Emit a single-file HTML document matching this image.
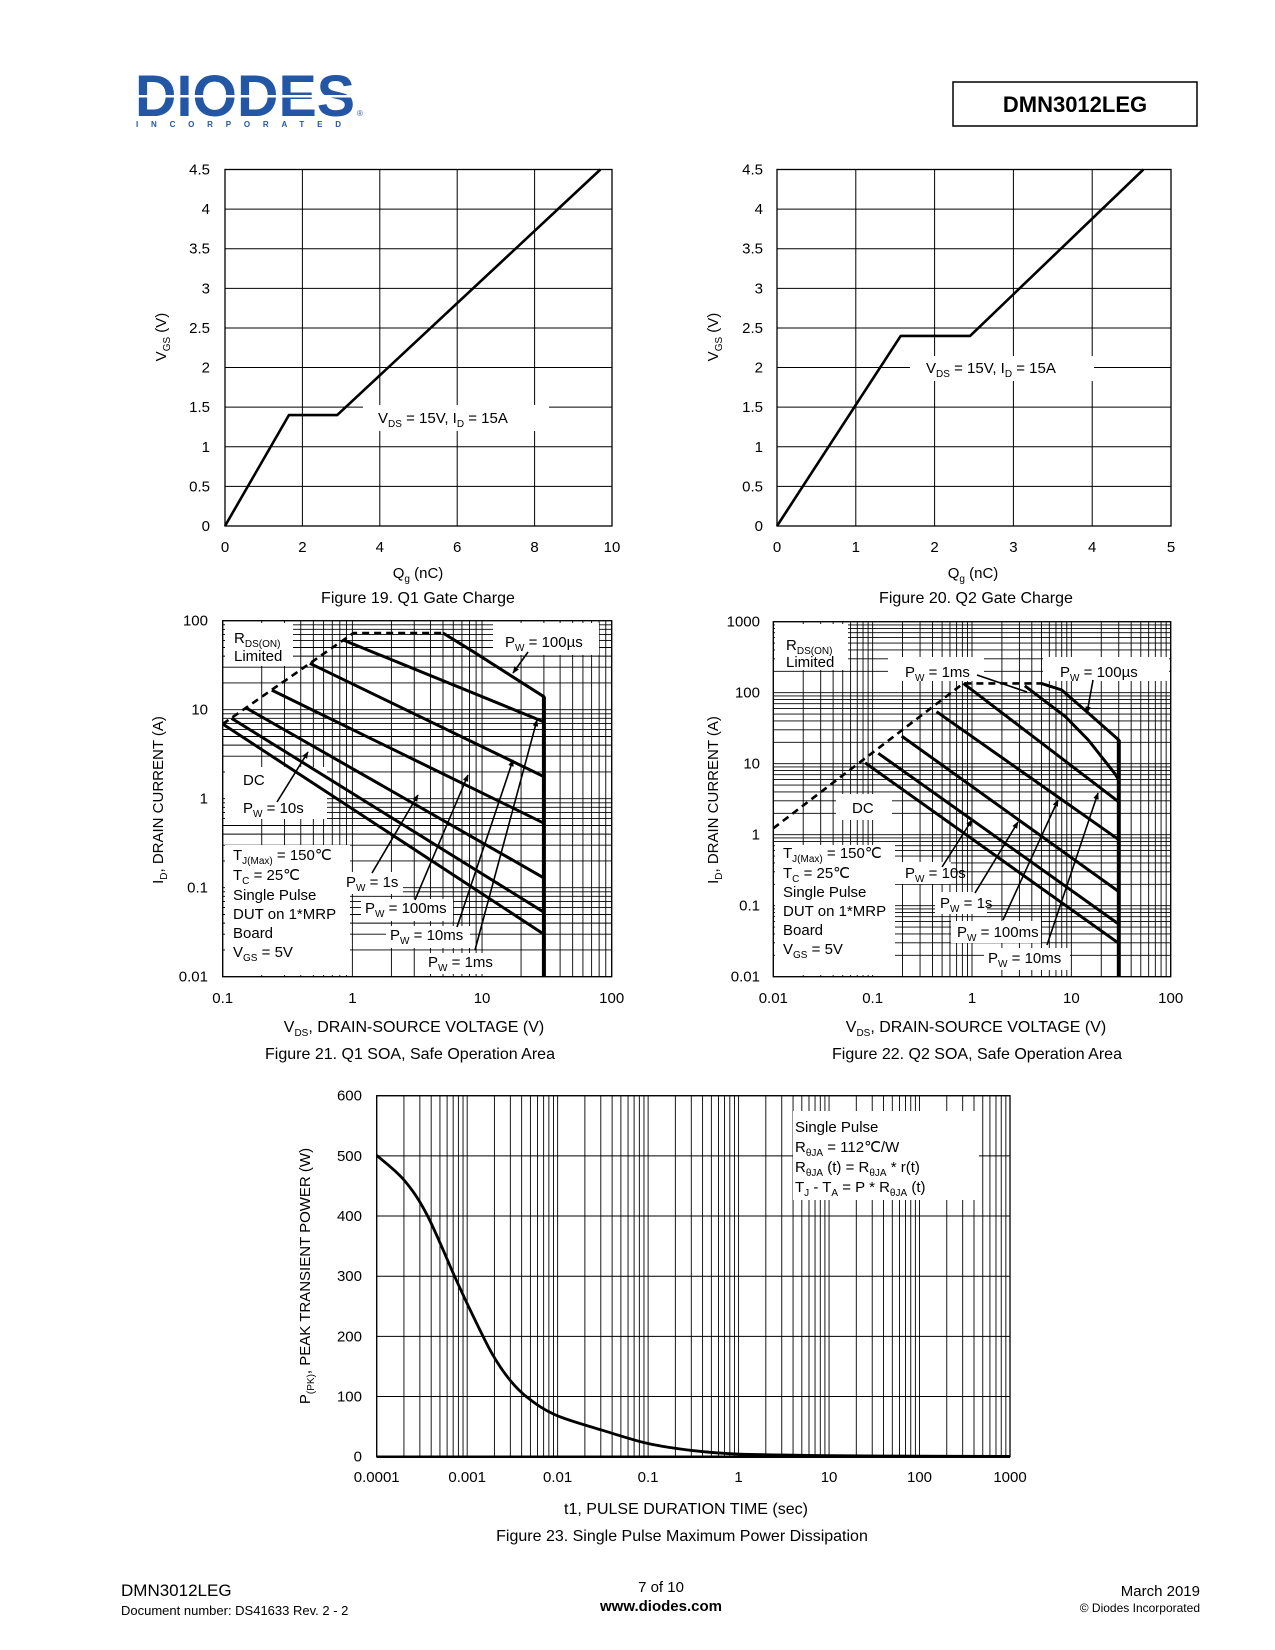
<!DOCTYPE html>
<html><head><meta charset="utf-8"><style>
html,body{margin:0;padding:0;background:#fff}
svg{display:block;font-family:"Liberation Sans",Arial,sans-serif}
text{fill:#000}
</style></head><body>
<svg id="page" width="1275" height="1650" viewBox="0 0 1275 1650" xmlns="http://www.w3.org/2000/svg">
<defs>
<marker id="ah" viewBox="0 0 10 10" refX="9" refY="5" markerWidth="7" markerHeight="7" orient="auto" markerUnits="userSpaceOnUse"><path d="M0,1 L10,5 L0,9 z" fill="#000"/></marker>
</defs>
<rect width="1275" height="1650" fill="#fff"/>
<g>
<text x="135" y="116" font-size="58" font-weight="bold" fill="#2357a6" style="fill:#2357a6" textLength="220" lengthAdjust="spacingAndGlyphs">DIODES</text>
<rect x="133" y="95" width="226" height="2.5" fill="#fff"/>
<text x="357" y="116" font-size="8" style="fill:#2357a6">®</text>
<text x="136" y="127" font-size="8" font-weight="bold" textLength="205" lengthAdjust="spacing" style="fill:#2357a6">INCORPORATED</text>
</g>
<g>
<rect x="953" y="82" width="244" height="44" fill="none" stroke="#000" stroke-width="1.5"/>
<text x="1075" y="112" font-size="22" font-weight="bold" text-anchor="middle">DMN3012LEG</text>
</g>

<g id="c19-grid"></g>
<g id="c20-grid"></g>
<g id="c21-grid"></g>
<g id="c22-grid"></g>
<g id="c23-grid"></g>

<g fill="#fff">
<rect x="363" y="405" width="186" height="26"/>
<rect x="910" y="356" width="184" height="25"/>
<rect x="225" y="623" width="68" height="43"/>
<rect x="493" y="623" width="106" height="32"/>
<rect x="225" y="767" width="102" height="52"/>
<rect x="225" y="845" width="125" height="130"/>
<rect x="343" y="872" width="60" height="22"/>
<rect x="361" y="899" width="92" height="22"/>
<rect x="386" y="926" width="84" height="22"/>
<rect x="424" y="953" width="80" height="21"/>
<rect x="775" y="624" width="73" height="46"/>
<rect x="888" y="657" width="96" height="24"/>
<rect x="1043" y="657" width="126" height="24"/>
<rect x="836" y="794" width="56" height="26"/>
<rect x="775" y="845" width="120" height="130"/>
<rect x="895" y="862" width="56" height="22"/>
<rect x="935" y="892" width="52" height="22"/>
<rect x="951" y="921" width="90" height="22"/>
<rect x="984" y="948" width="86" height="22"/>
<rect x="793" y="1111" width="186" height="89"/>
</g>

<g id="c19-series"></g>
<g id="c20-series"></g>
<g id="c21-series"></g>
<g id="c22-series"></g>
<g id="c23-series"></g>
<g id="ticks" font-size="15"></g>

<text x="378" y="423" font-size="15">V<tspan font-size="10" dy="4">DS</tspan><tspan dy="-4"> = 15V, I</tspan><tspan font-size="10" dy="4">D</tspan><tspan dy="-4"> = 15A</tspan></text>
<text x="418" y="578" font-size="15" text-anchor="middle">Q<tspan font-size="10" dy="4">g</tspan><tspan dy="-4"> (nC)</tspan></text>
<text x="418" y="603" font-size="16" text-anchor="middle">Figure 19. Q1 Gate Charge</text>
<text transform="translate(166,337) rotate(-90)" font-size="15" text-anchor="middle">V<tspan font-size="10" dy="4">GS</tspan><tspan dy="-4"> (V)</tspan></text>
<text x="926" y="373" font-size="15">V<tspan font-size="10" dy="4">DS</tspan><tspan dy="-4"> = 15V, I</tspan><tspan font-size="10" dy="4">D</tspan><tspan dy="-4"> = 15A</tspan></text>
<text x="973" y="578" font-size="15" text-anchor="middle">Q<tspan font-size="10" dy="4">g</tspan><tspan dy="-4"> (nC)</tspan></text>
<text x="976" y="603" font-size="16" text-anchor="middle">Figure 20. Q2 Gate Charge</text>
<text transform="translate(718,337) rotate(-90)" font-size="15" text-anchor="middle">V<tspan font-size="10" dy="4">GS</tspan><tspan dy="-4"> (V)</tspan></text>

<g font-size="15">
<text x="234" y="643">R<tspan font-size="10" dy="4">DS(ON)</tspan></text>
<text x="234" y="661">Limited</text>
<text x="505" y="647">P<tspan font-size="10" dy="4">W</tspan><tspan dy="-4"> = 100µs</tspan></text>
<text x="243" y="785">DC</text>
<text x="243" y="813">P<tspan font-size="10" dy="4">W</tspan><tspan dy="-4"> = 10s</tspan></text>
<text x="233" y="860">T<tspan font-size="10" dy="4">J(Max)</tspan><tspan dy="-4"> = 150℃</tspan></text>
<text x="233" y="880">T<tspan font-size="10" dy="4">C</tspan><tspan dy="-4"> = 25℃</tspan></text>
<text x="233" y="900">Single Pulse</text>
<text x="233" y="919">DUT on 1*MRP</text>
<text x="233" y="938">Board</text>
<text x="233" y="957">V<tspan font-size="10" dy="4">GS</tspan><tspan dy="-4"> = 5V</tspan></text>
<text x="346" y="887">P<tspan font-size="10" dy="4">W</tspan><tspan dy="-4"> = 1s</tspan></text>
<text x="365" y="913">P<tspan font-size="10" dy="4">W</tspan><tspan dy="-4"> = 100ms</tspan></text>
<text x="390" y="940">P<tspan font-size="10" dy="4">W</tspan><tspan dy="-4"> = 10ms</tspan></text>
<text x="428" y="967">P<tspan font-size="10" dy="4">W</tspan><tspan dy="-4"> = 1ms</tspan></text>
</g>
<g stroke="#000" stroke-width="1.6" fill="none" marker-end="url(#ah)">
<line x1="528" y1="652" x2="513" y2="673"/>
<line x1="277" y1="802" x2="308" y2="752"/>
<line x1="372" y1="873" x2="418" y2="795"/>
<line x1="415" y1="900" x2="468" y2="775"/>
<line x1="457" y1="927" x2="513" y2="760"/>
<line x1="475" y1="950" x2="537" y2="720"/>
</g>
<text x="414" y="1032" font-size="16" text-anchor="middle">V<tspan font-size="10" dy="4">DS</tspan><tspan dy="-4">, DRAIN-SOURCE VOLTAGE (V)</tspan></text>
<text x="410" y="1059" font-size="16" text-anchor="middle">Figure 21. Q1 SOA, Safe Operation Area</text>
<text transform="translate(163,800) rotate(-90)" font-size="15" text-anchor="middle">I<tspan font-size="10" dy="4">D</tspan><tspan dy="-4">, DRAIN CURRENT (A)</tspan></text>

<g font-size="15">
<text x="786" y="650">R<tspan font-size="10" dy="4">DS(ON)</tspan></text>
<text x="786" y="667">Limited</text>
<text x="905" y="677">P<tspan font-size="10" dy="4">W</tspan><tspan dy="-4"> = 1ms</tspan></text>
<text x="1060" y="677">P<tspan font-size="10" dy="4">W</tspan><tspan dy="-4"> = 100µs</tspan></text>
<text x="852" y="813">DC</text>
<text x="783" y="858">T<tspan font-size="10" dy="4">J(Max)</tspan><tspan dy="-4"> = 150℃</tspan></text>
<text x="783" y="878">T<tspan font-size="10" dy="4">C</tspan><tspan dy="-4"> = 25℃</tspan></text>
<text x="783" y="897">Single Pulse</text>
<text x="783" y="916">DUT on 1*MRP</text>
<text x="783" y="935">Board</text>
<text x="783" y="954">V<tspan font-size="10" dy="4">GS</tspan><tspan dy="-4"> = 5V</tspan></text>
<text x="905" y="878">P<tspan font-size="10" dy="4">W</tspan><tspan dy="-4"> = 10s</tspan></text>
<text x="940" y="908">P<tspan font-size="10" dy="4">W</tspan><tspan dy="-4"> = 1s</tspan></text>
<text x="957" y="937">P<tspan font-size="10" dy="4">W</tspan><tspan dy="-4"> = 100ms</tspan></text>
<text x="988" y="963">P<tspan font-size="10" dy="4">W</tspan><tspan dy="-4"> = 10ms</tspan></text>
</g>
<g stroke="#000" stroke-width="1.6" fill="none">
<line x1="977" y1="675" x2="1027" y2="692"/>
<line x1="1093" y1="680" x2="1087" y2="713" marker-end="url(#ah)"/>
<line x1="942" y1="867" x2="972" y2="820" marker-end="url(#ah)"/>
<line x1="975" y1="893" x2="1018" y2="822" marker-end="url(#ah)"/>
<line x1="1003" y1="920" x2="1058" y2="800" marker-end="url(#ah)"/>
<line x1="1047" y1="945" x2="1098" y2="793" marker-end="url(#ah)"/>
</g>
<text x="976" y="1032" font-size="16" text-anchor="middle">V<tspan font-size="10" dy="4">DS</tspan><tspan dy="-4">, DRAIN-SOURCE VOLTAGE (V)</tspan></text>
<text x="977" y="1059" font-size="16" text-anchor="middle">Figure 22. Q2 SOA, Safe Operation Area</text>
<text transform="translate(718,800) rotate(-90)" font-size="15" text-anchor="middle">I<tspan font-size="10" dy="4">D</tspan><tspan dy="-4">, DRAIN CURRENT (A)</tspan></text>

<g font-size="15">
<text x="795" y="1132">Single Pulse</text>
<text x="795" y="1152">R<tspan font-size="10" dy="4">θJA</tspan><tspan dy="-4"> = 112℃/W</tspan></text>
<text x="795" y="1172">R<tspan font-size="10" dy="4">θJA</tspan><tspan dy="-4"> (t) = R</tspan><tspan font-size="10" dy="4">θJA</tspan><tspan dy="-4"> * r(t)</tspan></text>
<text x="795" y="1192">T<tspan font-size="10" dy="4">J</tspan><tspan dy="-4"> - T</tspan><tspan font-size="10" dy="4">A</tspan><tspan dy="-4"> = P * R</tspan><tspan font-size="10" dy="4">θJA</tspan><tspan dy="-4"> (t)</tspan></text>
</g>
<text x="686" y="1514" font-size="16" text-anchor="middle">t1, PULSE DURATION TIME (sec)</text>
<text x="682" y="1541" font-size="16" text-anchor="middle">Figure 23. Single Pulse Maximum Power Dissipation</text>
<text transform="translate(310,1276) rotate(-90)" font-size="15" text-anchor="middle">P<tspan font-size="10" dy="4">(PK)</tspan><tspan dy="-4">, PEAK TRANSIENT POWER (W)</tspan></text>

<g>
<text x="121" y="1596" font-size="17">DMN3012LEG</text>
<text x="121" y="1615" font-size="13">Document number: DS41633  Rev. 2 - 2</text>
<text x="661" y="1592" font-size="15" text-anchor="middle">7 of 10</text>
<text x="661" y="1611" font-size="15" font-weight="bold" text-anchor="middle">www.diodes.com</text>
<text x="1200" y="1596" font-size="15" text-anchor="end">March 2019</text>
<text x="1200" y="1612" font-size="12" text-anchor="end">© Diodes Incorporated</text>
</g>
</svg>
<script>
const fig19Q = [0, 1.65, 2.9, 9.7];
const fig19V = [0, 1.4, 1.4, 4.5];
const fig19XTicks = [0, 2, 4, 6, 8, 10];
const fig19YTicks = [0, 0.5, 1, 1.5, 2, 2.5, 3, 3.5, 4, 4.5];

const fig20Q = [0, 1.57, 2.45, 4.65];
const fig20V = [0, 2.4, 2.4, 4.5];
const fig20XTicks = [0, 1, 2, 3, 4, 5];
const fig20YTicks = [0, 0.5, 1, 1.5, 2, 2.5, 3, 3.5, 4, 4.5];

const fig21RdsV = [0.1, 1.02, 5.0];
const fig21RdsI = [6.9, 72.8, 72.8];
const fig21P100usV = [5.0, 8.56, 30, 30];
const fig21P100usI = [72.8, 44.9, 14.0, 0.01];
const fig21P1msV = [0.85, 30];
const fig21P1msI = [60.7, 7.3];
const fig21P10msV = [0.47, 30];
const fig21P10msI = [33.2, 1.77];
const fig21P100msV = [0.239, 30];
const fig21P100msI = [16.6, 0.53];
const fig21P1sV = [0.153, 30];
const fig21P1sI = [10.4, 0.129];
const fig21P10sV = [0.117, 30];
const fig21P10sI = [8.0, 0.053];
const fig21DcV = [0.1, 30];
const fig21DcI = [6.9, 0.030];
const fig21XTicks = ["0.1", "1", "10", "100"];
const fig21YTicks = ["0.01", "0.1", "1", "10", "100"];

const fig22RdsV = [0.01, 0.82, 5.0];
const fig22RdsI = [1.23, 135, 135];
const fig22P100usV = [5.0, 8.0, 14.3, 30, 30];
const fig22P100usI = [135, 109, 54, 21.6, 0.01];
const fig22P1msV = [3.4, 8.7, 14.8, 27.5, 30];
const fig22P1msI = [125, 46, 21.6, 7.2, 5.9];
const fig22P10msV = [0.82, 30];
const fig22P10msI = [135, 2.9];
const fig22P100msV = [0.44, 30];
const fig22P100msI = [54, 0.85];
const fig22P1sV = [0.196, 30];
const fig22P1sI = [24.5, 0.158];
const fig22P10sV = [0.114, 30];
const fig22P10sI = [14, 0.055];
const fig22DcV = [0.084, 30];
const fig22DcI = [10.3, 0.0295];
const fig22XTicks = ["0.01", "0.1", "1", "10", "100"];
const fig22YTicks = ["0.01", "0.1", "1", "10", "100", "1000"];

const fig23T = [0.0001, 0.0002, 0.00036, 0.00073, 0.00104, 0.00187, 0.00298, 0.00475, 0.0096, 0.031, 0.1, 0.32, 1.03, 10.7, 100, 1000];
const fig23P = [501, 460, 402, 299, 249, 172, 127, 97, 69, 44, 22, 10, 4.4, 1.7, 0.8, 0.5];
const fig23XTicks = ["0.0001", "0.001", "0.01", "0.1", "1", "10", "100", "1000"];
const fig23YTicks = [0, 100, 200, 300, 400, 500, 600];

const NS = 'http://www.w3.org/2000/svg';
function mk(parent, tag, attrs) {
  const e = document.createElementNS(NS, tag);
  for (const k in attrs) e.setAttribute(k, attrs[k]);
  parent.appendChild(e);
  return e;
}
function lin(d0, d1, p0, p1) { return v => p0 + (v - d0) / (d1 - d0) * (p1 - p0); }
function lg(d0, d1, p0, p1) { const a = Math.log10(d0), b = Math.log10(d1); return v => p0 + (Math.log10(v) - a) / (b - a) * (p1 - p0); }
function pts(xs, ys, fx, fy) { return xs.map((x, i) => fx(x).toFixed(1) + ',' + fy(ys[i]).toFixed(1)).join(' '); }
function logVals(d0, d1) { const out = []; for (let d = d0; d < d1; d++) for (let k = 1; k < 10; k++) out.push(k * Math.pow(10, d)); out.push(Math.pow(10, d1)); return out; }
const ticks = document.getElementById('ticks');
function tick(x, y, s, anchor) {
  const t = mk(ticks, 'text', { x: x, y: y, 'text-anchor': anchor });
  t.textContent = s;
  
  
}
function frame(g, L, T, R, B) {
  const f = mk(g, 'rect', { x: L, y: T, width: R - L, height: B - T, fill: 'none', stroke: '#000', 'stroke-width': 1.3 });
  
  
}
function gridLine(g, x1, y1, x2, y2, w) {
  const l = mk(g, 'line', { x1: x1, y1: y1, x2: x2, y2: y2, stroke: '#000', 'stroke-width': w });
  
  
}
function series(g, xs, ys, fx, fy, name, w, dash) {
  const p = mk(g, 'polyline', { points: pts(xs, ys, fx, fy), fill: 'none', stroke: '#000', 'stroke-width': w, 'stroke-linejoin': 'round' });
  if (dash) p.setAttribute('stroke-dasharray', dash);
  
  
}

(function () {
  const L = 225, R = 612, T = 169.5, B = 526;
  const fx = lin(0, 10, L, R), fy = lin(0, 4.5, B, T);
  const g = document.getElementById('c19-grid');
  fig19XTicks.forEach(v => { gridLine(g, fx(v), T, fx(v), B, 1); tick(fx(v), 552, String(v), 'middle'); });
  fig19YTicks.forEach(v => { gridLine(g, L, fy(v), R, fy(v), 1); tick(210, fy(v) + 5, String(v), 'end'); });
  frame(g, L, T, R, B);
  series(document.getElementById('c19-series'), fig19Q, fig19V, fx, fy, 'fig19-gate-charge-curve', 2.6);
})();

(function () {
  const L = 777, R = 1171, T = 169.5, B = 526;
  const fx = lin(0, 5, L, R), fy = lin(0, 4.5, B, T);
  const g = document.getElementById('c20-grid');
  fig20XTicks.forEach(v => { gridLine(g, fx(v), T, fx(v), B, 1); tick(fx(v), 552, String(v), 'middle'); });
  fig20YTicks.forEach(v => { gridLine(g, L, fy(v), R, fy(v), 1); tick(763, fy(v) + 5, String(v), 'end'); });
  frame(g, L, T, R, B);
  series(document.getElementById('c20-series'), fig20Q, fig20V, fx, fy, 'fig20-gate-charge-curve', 2.6);
})();

(function () {
  const L = 222.7, R = 611.7, T = 620.7, B = 976.7;
  const fx = lg(0.1, 100, L, R), fy = lg(0.01, 100, B, T);
  const g = document.getElementById('c21-grid');
  logVals(-1, 2).forEach(v => gridLine(g, fx(v), T, fx(v), B, 0.9));
  logVals(-2, 2).forEach(v => gridLine(g, L, fy(v), R, fy(v), 0.9));
  frame(g, L, T, R, B);
  fig21XTicks.forEach(s => tick(fx(parseFloat(s)), 1003, s, 'middle'));
  fig21YTicks.forEach(s => tick(208, fy(parseFloat(s)) + 5, s, 'end'));
  const s = document.getElementById('c21-series');
  series(s, fig21RdsV, fig21RdsI, fx, fy, 'fig21-rds-on-limit', 2.6, '7,5');
  series(s, fig21P100usV, fig21P100usI, fx, fy, 'fig21-pw-100us', 3);
  series(s, fig21P1msV, fig21P1msI, fx, fy, 'fig21-pw-1ms', 3);
  series(s, fig21P10msV, fig21P10msI, fx, fy, 'fig21-pw-10ms', 3);
  series(s, fig21P100msV, fig21P100msI, fx, fy, 'fig21-pw-100ms', 3);
  series(s, fig21P1sV, fig21P1sI, fx, fy, 'fig21-pw-1s', 3);
  series(s, fig21P10sV, fig21P10sI, fx, fy, 'fig21-pw-10s', 3);
  series(s, fig21DcV, fig21DcI, fx, fy, 'fig21-dc', 3);
  series(s, [30, 30], [14, 0.01], fx, fy, 'fig21-vds-limit', 4);
})();

(function () {
  const L = 773.3, R = 1170.7, T = 621.7, B = 976.7;
  const fx = lg(0.01, 100, L, R), fy = lg(0.01, 1000, B, T);
  const g = document.getElementById('c22-grid');
  logVals(-2, 2).forEach(v => gridLine(g, fx(v), T, fx(v), B, 0.9));
  logVals(-2, 3).forEach(v => gridLine(g, L, fy(v), R, fy(v), 0.9));
  frame(g, L, T, R, B);
  fig22XTicks.forEach(s => tick(fx(parseFloat(s)), 1003, s, 'middle'));
  fig22YTicks.forEach(s => tick(760, fy(parseFloat(s)) + 5, s, 'end'));
  const s = document.getElementById('c22-series');
  series(s, fig22RdsV, fig22RdsI, fx, fy, 'fig22-rds-on-limit', 2.6, '7,5');
  series(s, fig22P100usV, fig22P100usI, fx, fy, 'fig22-pw-100us', 3);
  series(s, fig22P1msV, fig22P1msI, fx, fy, 'fig22-pw-1ms', 3);
  series(s, fig22P10msV, fig22P10msI, fx, fy, 'fig22-pw-10ms', 3);
  series(s, fig22P100msV, fig22P100msI, fx, fy, 'fig22-pw-100ms', 3);
  series(s, fig22P1sV, fig22P1sI, fx, fy, 'fig22-pw-1s', 3);
  series(s, fig22P10sV, fig22P10sI, fx, fy, 'fig22-pw-10s', 3);
  series(s, fig22DcV, fig22DcI, fx, fy, 'fig22-dc', 3);
  series(s, [30, 30], [21.6, 0.01], fx, fy, 'fig22-vds-limit', 4);
})();

(function () {
  const L = 376.7, R = 1010, T = 1095.7, B = 1456.7;
  const fx = lg(0.0001, 1000, L, R), fy = lin(0, 600, B, T);
  const g = document.getElementById('c23-grid');
  logVals(-4, 3).forEach(v => gridLine(g, fx(v), T, fx(v), B, 0.9));
  fig23YTicks.forEach(v => { gridLine(g, L, fy(v), R, fy(v), 1); tick(362, fy(v) + 5, String(v), 'end'); });
  frame(g, L, T, R, B);
  const ax = mk(g, 'line', { x1: L, y1: B, x2: R, y2: B, stroke: '#000', 'stroke-width': 2.5 });
  
  
  fig23XTicks.forEach(s => tick(fx(parseFloat(s)), 1482, s, 'middle'));
  const P = fig23T.map((t, i) => [fx(t), fy(fig23P[i])]);
  let d = 'M' + P[0][0].toFixed(1) + ',' + P[0][1].toFixed(1);
  for (let i = 0; i < P.length - 1; i++) {
    const p0 = P[Math.max(0, i - 1)], p1 = P[i], p2 = P[i + 1], p3 = P[Math.min(P.length - 1, i + 2)];
    const c1 = [p1[0] + (p2[0] - p0[0]) / 6, p1[1] + (p2[1] - p0[1]) / 6];
    const c2 = [p2[0] - (p3[0] - p1[0]) / 6, p2[1] - (p3[1] - p1[1]) / 6];
    d += ' C' + c1.map(n => n.toFixed(1)).join(',') + ' ' + c2.map(n => n.toFixed(1)).join(',') + ' ' + p2.map(n => n.toFixed(1)).join(',');
  }
  const c = mk(document.getElementById('c23-series'), 'path', { d: d, fill: 'none', stroke: '#000', 'stroke-width': 2.8 });
  
  
})();
</script>
</body></html>
